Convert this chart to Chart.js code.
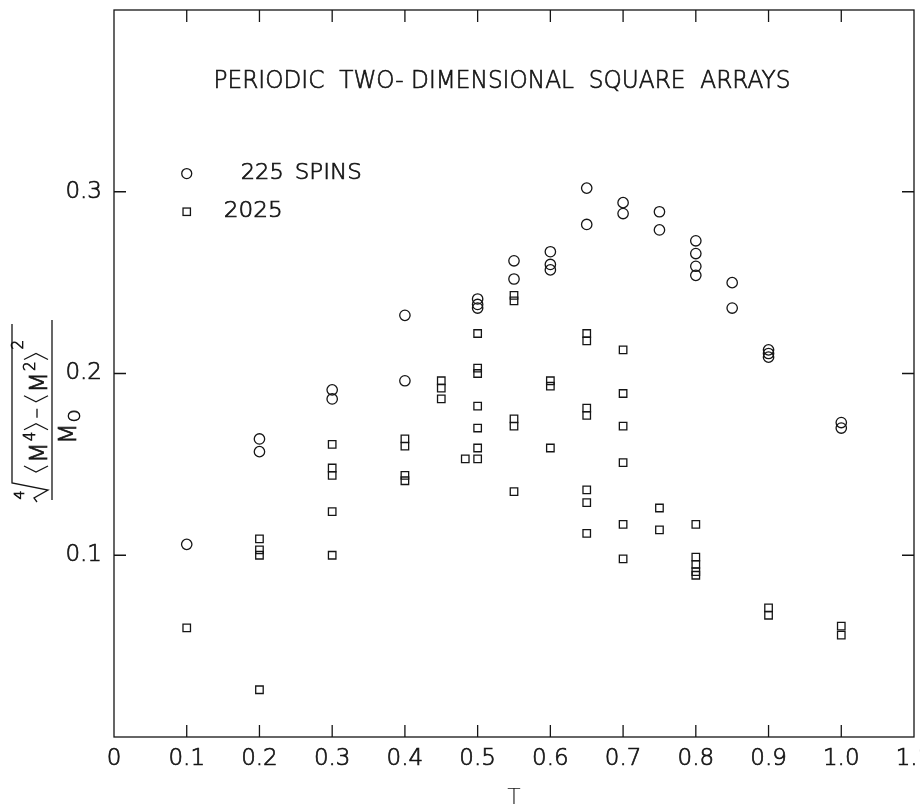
<!DOCTYPE html>
<html>
<head>
<meta charset="utf-8">
<script src="https://cdn.jsdelivr.net/npm/chart.js@4.4.0/dist/chart.umd.min.js"></script>
<style>
  html, body { margin: 0; padding: 0; background: #fff; }
  #wrap { width: 920px; height: 805px; }
</style>
</head>
<body>
<div id="wrap"><canvas id="chart"></canvas></div>
<script>
// 225 spins (circles)
var spins225T = [0.1, 0.2, 0.2, 0.3, 0.3, 0.4, 0.4, 0.5, 0.5, 0.5, 0.55, 0.55, 0.6, 0.6, 0.6,
  0.65, 0.65, 0.7, 0.7, 0.75, 0.75, 0.8, 0.8, 0.8, 0.8, 0.85, 0.85, 0.9, 0.9, 0.9, 1.0, 1.0];
var spins225Y = [0.106, 0.164, 0.157, 0.191, 0.186, 0.232, 0.196, 0.241, 0.238, 0.236, 0.262, 0.252, 0.267, 0.260, 0.257,
  0.302, 0.282, 0.294, 0.288, 0.289, 0.279, 0.273, 0.266, 0.259, 0.254, 0.250, 0.236, 0.213, 0.211, 0.209, 0.173, 0.170];

// 2025 spins (squares)
var spins2025T = [0.1, 0.2, 0.2, 0.2, 0.2, 0.3, 0.3, 0.3, 0.3, 0.3, 0.4, 0.4, 0.4, 0.4, 0.45, 0.45, 0.45, 0.483,
  0.5, 0.5, 0.5, 0.5, 0.5, 0.5, 0.5, 0.55, 0.55, 0.55, 0.55, 0.55, 0.6, 0.6, 0.6,
  0.65, 0.65, 0.65, 0.65, 0.65, 0.65, 0.65, 0.7, 0.7, 0.7, 0.7, 0.7, 0.7, 0.75, 0.75,
  0.8, 0.8, 0.8, 0.8, 0.8, 0.9, 0.9, 1.0, 1.0];
var spins2025Y = [0.060, 0.109, 0.103, 0.100, 0.026, 0.161, 0.148, 0.144, 0.124, 0.100, 0.164, 0.160, 0.144, 0.141, 0.196, 0.192, 0.186, 0.153,
  0.222, 0.203, 0.200, 0.182, 0.170, 0.159, 0.153, 0.243, 0.240, 0.175, 0.171, 0.135, 0.196, 0.193, 0.159,
  0.222, 0.218, 0.181, 0.177, 0.136, 0.129, 0.112, 0.213, 0.189, 0.171, 0.151, 0.117, 0.098, 0.126, 0.114,
  0.117, 0.099, 0.095, 0.091, 0.089, 0.071, 0.067, 0.061, 0.056];

var yTickLabels = [0.1, 0.2, 0.3];
var titleText = 'PERIODIC  TWO- DIMENSIONAL  SQUARE  ARRAYS';
var legendLabels = ['225', '2025'];

var INK = '#151515';
var FONT = '"DejaVu Sans", sans-serif';
var TICK = 12;
var TEXT_STROKE = 0.7;

function toPoints(xs, ys) {
  return xs.map(function(x, i) { return {x: x, y: ys[i]}; });
}

function inkText(ctx, text, x, y) {
  ctx.lineWidth = TEXT_STROKE;
  ctx.strokeText(text, x, y);
  ctx.fillText(text, x, y);
}

// draws text squeezed/stretched to a given width
function fitText(ctx, text, x, y, width, align) {
  var w = ctx.measureText(text).width;
  ctx.save();
  ctx.translate(x, y);
  ctx.scale(width / w, 1);
  ctx.textAlign = align || 'center';
  inkText(ctx, text, 0, 0);
  ctx.restore();
}

var framePlugin = {
  id: 'frame',
  afterDatasetsDraw: function(chart) {
    var ctx = chart.ctx, a = chart.chartArea, xs = chart.scales.x, ys = chart.scales.y;
    ctx.save();
    ctx.strokeStyle = INK;
    ctx.lineWidth = 1.3;
    ctx.strokeRect(a.left, a.top, a.right - a.left, a.bottom - a.top);
    ctx.beginPath();
    xs.ticks.forEach(function(t) {
      if (t.value < 0.05 || t.value > 1.05) return;
      var px = xs.getPixelForValue(t.value);
      ctx.moveTo(px, a.bottom); ctx.lineTo(px, a.bottom - TICK);
      ctx.moveTo(px, a.top); ctx.lineTo(px, a.top + TICK);
    });
    yTickLabels.forEach(function(v) {
      var py = ys.getPixelForValue(v);
      ctx.moveTo(a.left, py); ctx.lineTo(a.left + TICK, py);
      ctx.moveTo(a.right, py); ctx.lineTo(a.right - TICK, py);
    });
    ctx.stroke();

    // title inside the frame
    ctx.fillStyle = INK;
    ctx.textBaseline = 'middle';
    ctx.font = '200 25px ' + FONT;
    fitText(ctx, titleText, a.left + 388, a.top + 71, 577, 'center');

    // legend
    var lx = xs.getPixelForValue(0.1);
    var ly1 = ys.getPixelForValue(0.31), ly2 = ys.getPixelForValue(0.289);
    ctx.lineWidth = 1.3;
    ctx.beginPath();
    ctx.arc(lx, ly1, 5, 0, Math.PI * 2);
    ctx.stroke();
    ctx.strokeRect(lx - 3.7, ly2 - 3.7, 7.4, 7.4);
    ctx.font = '200 22px ' + FONT;
    fitText(ctx, legendLabels[0], lx + 97, ly1, 43, 'right');
    fitText(ctx, 'SPINS', lx + 108, ly1, 67, 'left');
    fitText(ctx, legendLabels[1], lx + 96, ly2, 59, 'right');
    ctx.restore();
  }
};

function bracket(ctx, x, top, bot, w, open) {
  var mid = (top + bot) / 2;
  ctx.beginPath();
  if (open) {
    ctx.moveTo(x + w, top); ctx.lineTo(x, mid); ctx.lineTo(x + w, bot);
  } else {
    ctx.moveTo(x, top); ctx.lineTo(x + w, mid); ctx.lineTo(x, bot);
  }
  ctx.stroke();
}

// rotated fraction used as the y axis title
var yTitlePlugin = {
  id: 'yTitle',
  afterDraw: function(chart) {
    var ctx = chart.ctx;
    ctx.save();
    ctx.translate(40, 410);
    ctx.rotate(-Math.PI / 2);
    ctx.fillStyle = INK;
    ctx.strokeStyle = INK;
    ctx.textBaseline = 'alphabetic';
    ctx.textAlign = 'left';

    var base = 7, bTop = -16, bBot = 8, cur = -62;
    var big = '200 24px ' + FONT, small = '200 15px ' + FONT;

    ctx.lineWidth = 1.3;
    bracket(ctx, cur, bTop, bBot, 6, true); cur += 9;
    ctx.font = big; inkText(ctx, 'M', cur, base); cur += ctx.measureText('M').width + 1;
    ctx.font = small; inkText(ctx, '4', cur, base - 12); cur += ctx.measureText('4').width + 2;
    ctx.lineWidth = 1.3;
    bracket(ctx, cur, bTop, bBot, 6, false); cur += 12;
    ctx.beginPath(); ctx.moveTo(cur, -3); ctx.lineTo(cur + 9, -3); ctx.stroke(); cur += 16;
    bracket(ctx, cur, bTop, bBot, 6, true); cur += 9;
    ctx.font = big; inkText(ctx, 'M', cur, base); cur += ctx.measureText('M').width + 1;
    ctx.font = small; inkText(ctx, '2', cur, base - 12); cur += ctx.measureText('2').width + 2;
    ctx.lineWidth = 1.3;
    bracket(ctx, cur, bTop, bBot, 6, false); cur += 10;
    ctx.font = small; inkText(ctx, '2', cur, -17);

    // radical sign with index
    ctx.lineWidth = 1.3;
    ctx.beginPath();
    ctx.moveTo(-92, -3); ctx.lineTo(-88, -6); ctx.lineTo(-80, 8); ctx.lineTo(-73, -28); ctx.lineTo(86, -28);
    ctx.stroke();
    ctx.font = '200 14px ' + FONT;
    ctx.textAlign = 'center';
    inkText(ctx, '4', -85, -16);

    // fraction bar
    ctx.lineWidth = 1.3;
    ctx.beginPath(); ctx.moveTo(-90, 12); ctx.lineTo(90, 12); ctx.stroke();

    // denominator
    ctx.textAlign = 'left';
    ctx.font = big; inkText(ctx, 'M', -34, 36);
    var mw = ctx.measureText('M').width;
    ctx.font = '200 16px ' + FONT; inkText(ctx, 'O', -34 + mw + 1, 40);
    ctx.restore();
  }
};

new Chart(document.getElementById('chart'), {
  type: 'scatter',
  data: {
    datasets: [{
      label: '225 SPINS',
      data: toPoints(spins225T, spins225Y),
      pointStyle: 'circle',
      pointRadius: 5.2,
      borderColor: INK,
      borderWidth: 1.3,
      backgroundColor: 'rgba(0,0,0,0)'
    }, {
      label: '2025',
      data: toPoints(spins2025T, spins2025Y),
      pointStyle: 'rect',
      pointRadius: 5.3,
      borderColor: INK,
      borderWidth: 1.3,
      backgroundColor: 'rgba(0,0,0,0)'
    }]
  },
  options: {
    responsive: true,
    maintainAspectRatio: false,
    animation: false,
    layout: {padding: {top: 10, right: 6, left: 0, bottom: 0}, autoPadding: false},
    plugins: {
      legend: {display: false},
      tooltip: {enabled: false}
    },
    scales: {
      x: {
        type: 'linear',
        min: 0,
        max: 1.1,
        grid: {display: false},
        border: {display: false},
        ticks: {
          stepSize: 0.1,
          autoSkip: false,
          maxRotation: 0,
          padding: 0,
          color: INK,
          textStrokeColor: INK,
          textStrokeWidth: TEXT_STROKE,
          font: {family: FONT, size: 23, weight: '200'},
          callback: function(v) { return v === 0 ? '0' : v.toFixed(1); }
        },
        title: {
          display: true,
          text: 'T',
          color: INK,
          font: {family: FONT, size: 22, weight: '200', lineHeight: 0.65},
          padding: {top: 0, bottom: 0}
        },
        afterFit: function(scale) {
          scale.height = 68;
          scale.paddingLeft = 0;
          scale.paddingRight = 0;
        }
      },
      y: {
        type: 'linear',
        min: 0,
        max: 0.4,
        grid: {display: false},
        border: {display: false},
        ticks: {
          stepSize: 0.1,
          padding: 4,
          color: INK,
          textStrokeColor: INK,
          textStrokeWidth: TEXT_STROKE,
          font: {family: FONT, size: 23, weight: '200'},
          callback: function(v) {
            var k = Math.round(v * 10);
            return (k >= 1 && k <= 3) ? (k / 10).toFixed(1) : '';
          }
        },
        afterFit: function(scale) {
          scale.width = 114;
          scale.paddingTop = 0;
          scale.paddingBottom = 0;
        }
      }
    }
  },
  plugins: [framePlugin, yTitlePlugin]
});
</script>
</body>
</html>
